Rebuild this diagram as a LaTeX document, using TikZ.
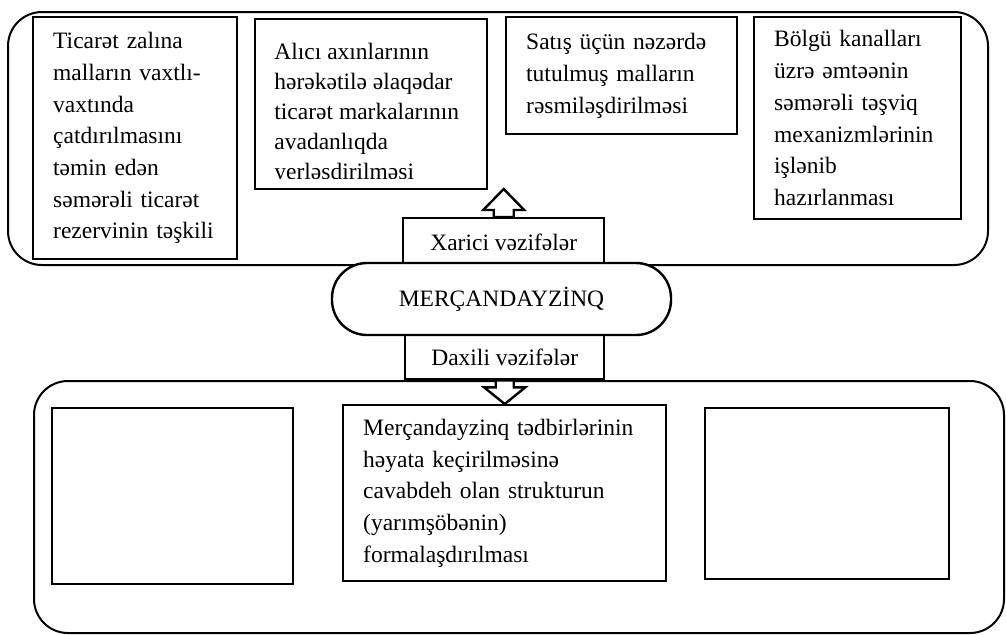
\documentclass[tikz,border=0pt]{standalone}
\usepackage{fontspec}
\setmainfont{Liberation Serif}
\usetikzlibrary{positioning}
\hyphenpenalty=10000

\begin{document}
\begin{tikzpicture}[
    x=0.5pt, y=-0.5pt,
    font=\fontsize{11.75pt}{15.85pt}\selectfont,
    frame/.style={draw, line width=1pt, rounded corners=17pt},
    taskbox/.style={draw, line width=1.2pt, anchor=north west, align=left,
                    inner xsep=10pt, inner ysep=0pt},
    labelbox/.style={draw, line width=1.2pt, anchor=north west, inner sep=0pt},
    blockarrow/.style={draw, fill=white, line width=1.2pt}
]
    \useasboundingbox (0,0) rectangle (1006,634);

    % external tasks
    \draw[frame] (8,12) rectangle (988,265);
    \node[taskbox, text width=82pt, minimum height=121pt] (ticaret) at (32,16)
        {Ticarət zalına\\ malların vaxtlı-\\ vaxtında\\ çatdırılmasını\\ təmin edən\\ səmərəli ticarət\\ rezervinin təşkili};
    \node[taskbox, minimum width=116pt, minimum height=85pt] (alici) at (254,18) {};
    \begin{scope}
        \clip (alici.north west) rectangle (486,178);
        \node[anchor=north west, align=left, inner sep=0pt,
              font=\fontsize{11.75pt}{15pt}\selectfont] (alicitxt) at (274,43)
            {Alıcı axınlarının\\ hərəkətilə əlaqədar\\ ticarət markalarının\\ avadanlıqda\\ yerləşdirilməsi};
    \end{scope}
    \node[taskbox, text width=95.5pt, minimum height=58.5pt] (satis) at (505,16)
        {Satış üçün nəzərdə\\ tutulmuş malların\\ rəsmiləşdirilməsi};
    \node[taskbox, text width=83.5pt, minimum height=101pt] (bolgu) at (753,16)
        {Bölgü kanalları\\ üzrə əmtəənin\\ səmərəli təşviq\\ mexanizmlərinin\\ işlənib\\ hazırlanması};
    \node[labelbox, minimum width=100.5pt, minimum height=24pt] (xarici) at (402,217) {Xarici vəzifələr};
    \draw[blockarrow] ([xshift=-5pt]xarici.north) -- ++(0,3.5pt) -- ++(-5.25pt,0)
        -- ([yshift=14pt]xarici.north) -- ([xshift=10.25pt,yshift=3.5pt]xarici.north)
        -- ++(-5.25pt,0) -- ([xshift=5pt]xarici.north) -- cycle;

    % internal tasks
    \draw[frame] (34,381) rectangle (1004,633);
    \node[taskbox, minimum width=120.5pt, minimum height=88pt] (bosA) at (51,407) {};
    \node[taskbox, text width=141.5pt, minimum height=88pt] (struktur) at (342,404)
        {Merçandayzinq tədbirlərinin\\ həyata keçirilməsinə\\ cavabdeh olan strukturun\\ (yarımşöbənin)\\ formalaşdırılması};
    \node[taskbox, minimum width=122pt, minimum height=85.5pt] (bosB) at (704,407) {};
    \node[labelbox, minimum width=99.5pt, minimum height=22pt] (daxili) at (404,334) {Daxili vəzifələr};

    \node[draw, fill=white, line width=1.2pt, rounded corners=17.5pt, inner sep=0pt,
          minimum width=169.5pt, minimum height=36pt] (merc) at (501.5,299) {MERÇANDAYZİNQ};

    \draw[blockarrow] ([xshift=-4.5pt]daxili.south) -- ++(0,-3.5pt) -- ++(-5.75pt,0)
        -- (struktur.north) -- ([xshift=10.25pt,yshift=-3.5pt]daxili.south)
        -- ++(-5.75pt,0) -- ([xshift=4.5pt]daxili.south) -- cycle;
\end{tikzpicture}
\end{document}
